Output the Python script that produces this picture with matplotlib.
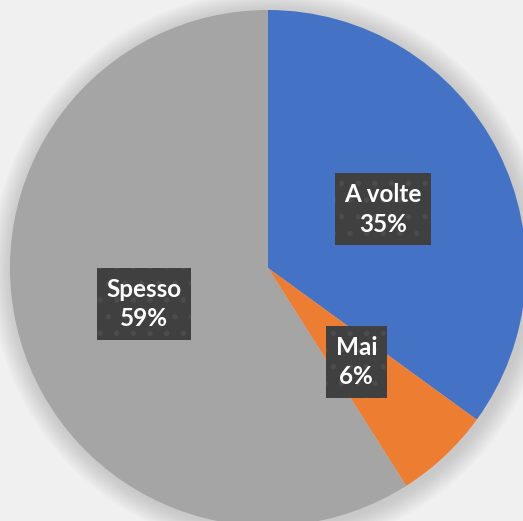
import matplotlib
matplotlib.use("Agg")
import matplotlib.pyplot as plt
import numpy as np
from matplotlib.patches import Circle

categories = ["A volte", "Mai", "Spesso"]
values = [35, 6, 59]
colors = ["#4472C4", "#ED7D31", "#A5A5A5"]

plt.rcParams['font.family'] = ['Lato', 'DejaVu Sans']
plt.rcParams['hatch.linewidth'] = 1.5

fig = plt.figure(figsize=(5.23, 5.21), dpi=100, facecolor="#f0f0f0")
ax = fig.add_axes([0, 0, 1, 1])
ax.set_facecolor("#f0f0f0")

# soft shadow round the pie
for i in range(14):
    r = 1.0 + 0.006 * (14 - i)
    ax.add_patch(Circle((0.01, -0.01), r, color="#9a9a9a", alpha=0.035, lw=0, zorder=0))

wedges, texts, autotexts = ax.pie(values, colors=colors, startangle=90, counterclock=False,
                                  autopct="%1.0f%%", pctdistance=0.5, radius=1.0,
                                  wedgeprops=dict(linewidth=0))
for wedge in wedges:
    wedge.set_zorder(2)

for name, t in zip(categories, autotexts):
    t.set_text(name + "\n" + t.get_text())
    t.set_color("white")
    t.set_fontsize(17.5)
    t.set_fontweight("bold")
    t.set_linespacing(1.35)
    t.set_zorder(5)
    t.set_bbox(dict(boxstyle="square,pad=0.4", facecolor="#404040", edgecolor="#4c4c4c",
                    linewidth=0, hatch="."))

ax.set_aspect("equal")
ax.set_xlim(-268 / 258, 255 / 258)
ax.set_ylim(-253 / 258, 268 / 258)
ax.axis("off")

fig.savefig("out.png", dpi=100, facecolor=fig.get_facecolor())
